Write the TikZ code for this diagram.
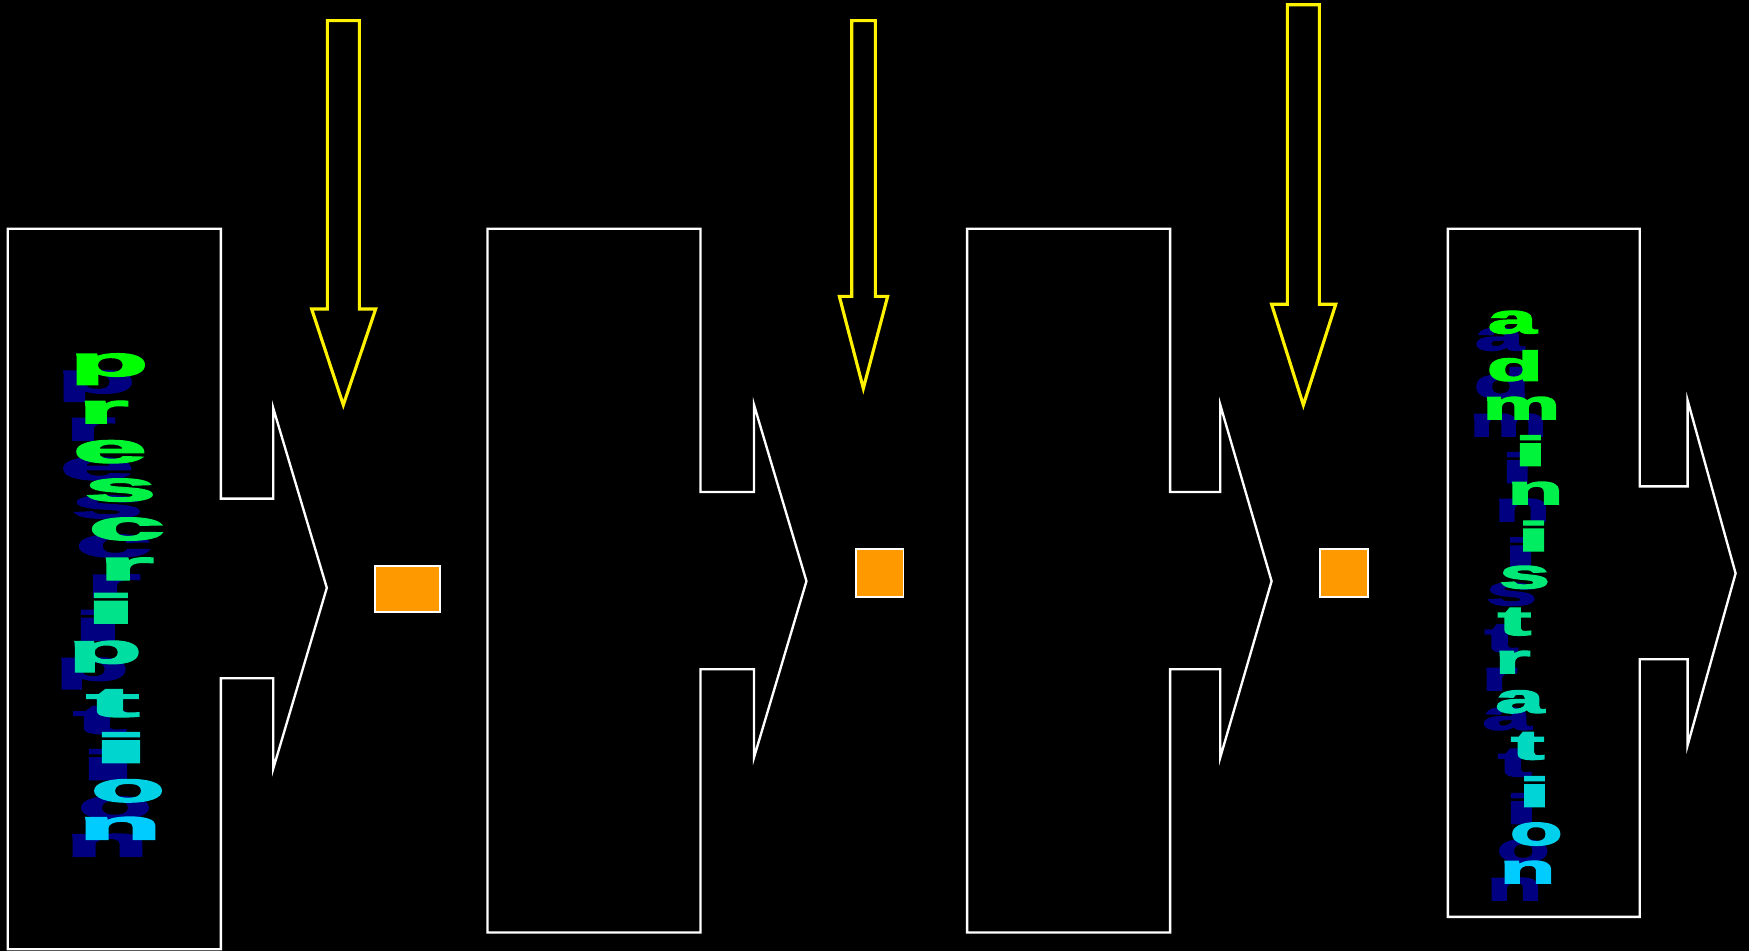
\documentclass[tikz,border=0pt]{standalone}
\usepackage{fontspec}
\setmainfont{Liberation Sans}
\newfontfamily\artfont[FakeBold=3]{Liberation Sans}
\definecolor{topgreen}{RGB}{0,255,0}
\definecolor{botcyan}{RGB}{0,204,255}
\definecolor{shadownavy}{RGB}{0,0,128}
\definecolor{tokenorange}{RGB}{255,153,0}
\begin{document}
\begin{tikzpicture}[x=0.01cm,y=-0.01cm,
        stage/.style={draw=white,line width=0.6pt,miter limit=20},
        feed/.style={draw=yellow,line width=0.8pt,miter limit=20},
        token/.style={fill=tokenorange,draw=white,line width=0.5pt},
        letter/.style={inner sep=0pt,anchor=base,font=\fontsize{10.6}{10.6}\selectfont\artfont\bfseries}]
        \fill[black] (0,0) rectangle (1568,853);
        \useasboundingbox (0,0) rectangle (1568,853);

        % the four stages
        \draw[stage] (7,205) -- (198,205) -- (198,447) -- (245,447) -- (245,366) -- (293,527)
            -- (245,689) -- (245,608) -- (198,608) -- (198,851) -- (7,851) -- cycle;
        \draw[stage] (437,205) -- (628,205) -- (628,441) -- (676,441) -- (676,363) -- (723,521)
            -- (676,679) -- (676,600) -- (628,600) -- (628,836) -- (437,836) -- cycle;
        \draw[stage] (867,205) -- (1049,205) -- (1049,441) -- (1094,441) -- (1094,363) -- (1140,521)
            -- (1094,679) -- (1094,600) -- (1049,600) -- (1049,836) -- (867,836) -- cycle;
        \draw[stage] (1298,205) -- (1470,205) -- (1470,436) -- (1513,436) -- (1513,359) -- (1556,514)
            -- (1513,668) -- (1513,591) -- (1470,591) -- (1470,822) -- (1298,822) -- cycle;

        % yellow arrows coming in from the top
        \draw[feed] (293.5,18.5) -- (322.2,18.5) -- (322.2,277) -- (336.8,277) -- (307.8,363)
            -- (279.4,277) -- (293.5,277) -- cycle;
        \draw[feed] (763.6,18.5) -- (784.8,18.5) -- (784.8,265.7) -- (795.8,265.7) -- (774,348.2)
            -- (752.5,265.7) -- (763.6,265.7) -- cycle;
        \draw[feed] (1154.1,4.2) -- (1182.8,4.2) -- (1182.8,272.8) -- (1197.5,272.8) -- (1168.5,363.1)
            -- (1140,272.8) -- (1154.1,272.8) -- cycle;

        % orange blocks between the stages
        \draw[token] (336.2,507) rectangle (394.5,549);
        \draw[token] (767,492) rectangle (810,535);
        \draw[token] (1183,492) rectangle (1226.5,535);

        % prescription
        \foreach \ch/\x/\y/\sx [count=\i] in {p/97.7/337.1/3.1, r/92.6/379.5/3.1, e/98.6/414.8/3.2,
                s/107.9/449.2/3.1, c/113.6/484.1/3.3, r/113/520/3.4, i/99.5/558.8/4.9,
                p/94.1/594.7/2.9, t/101.3/642.5/3.8, i/108.5/683.8/5.5, o/114.8/718.8/2.9,
                n/107.6/752.5/3.3}
            \node[letter,text=shadownavy] (pre-sh-\i) at (\x-11.7,\y+15.2) {\scalebox{\sx}[1]{\ch}};
        \foreach \ch/\x/\y/\sx [count=\i] in {p/97.7/337.1/3.1, r/92.6/379.5/3.1, e/98.6/414.8/3.2,
                s/107.9/449.2/3.1, c/113.6/484.1/3.3, r/113/520/3.4, i/99.5/558.8/4.9,
                p/94.1/594.7/2.9, t/101.3/642.5/3.8, i/108.5/683.8/5.5, o/114.8/718.8/2.9,
                n/107.6/752.5/3.3}{
            \pgfmathtruncatemacro\mix{(\i-1)*100/11}
            \node[letter,text=botcyan!\mix!topgreen] (pre-\i) at (\x,\y) {\scalebox{\sx}[1]{\ch}};
        }

        % administration
        \foreach \ch/\x/\y/\sx [count=\i] in {a/1355.8/298.8/2.1, d/1358.1/341.3/2.2, m/1363.9/375.9/2.1,
                i/1372/417.5/3.0, n/1376.5/452.1/2.2, i/1375/494/3.0, s/1366.9/527.4/2.2,
                t/1357.8/569.3/2.4, r/1356/603.6/2.2, a/1362.5/639/2.1, t/1369.7/680.7/2.4,
                i/1375.7/723.2/3.0, o/1377.3/757.6/2.06, n/1369.5/791.9/2.2}
            \node[letter,text=shadownavy] (adm-sh-\i) at (\x-11.7,\y+15.2) {\scalebox{\sx}[1]{\ch}};
        \foreach \ch/\x/\y/\sx [count=\i] in {a/1355.8/298.8/2.1, d/1358.1/341.3/2.2, m/1363.9/375.9/2.1,
                i/1372/417.5/3.0, n/1376.5/452.1/2.2, i/1375/494/3.0, s/1366.9/527.4/2.2,
                t/1357.8/569.3/2.4, r/1356/603.6/2.2, a/1362.5/639/2.1, t/1369.7/680.7/2.4,
                i/1375.7/723.2/3.0, o/1377.3/757.6/2.06, n/1369.5/791.9/2.2}{
            \pgfmathtruncatemacro\mix{(\i-1)*100/13}
            \node[letter,text=botcyan!\mix!topgreen] (adm-\i) at (\x,\y) {\scalebox{\sx}[1]{\ch}};
        }
\end{tikzpicture}
\end{document}
